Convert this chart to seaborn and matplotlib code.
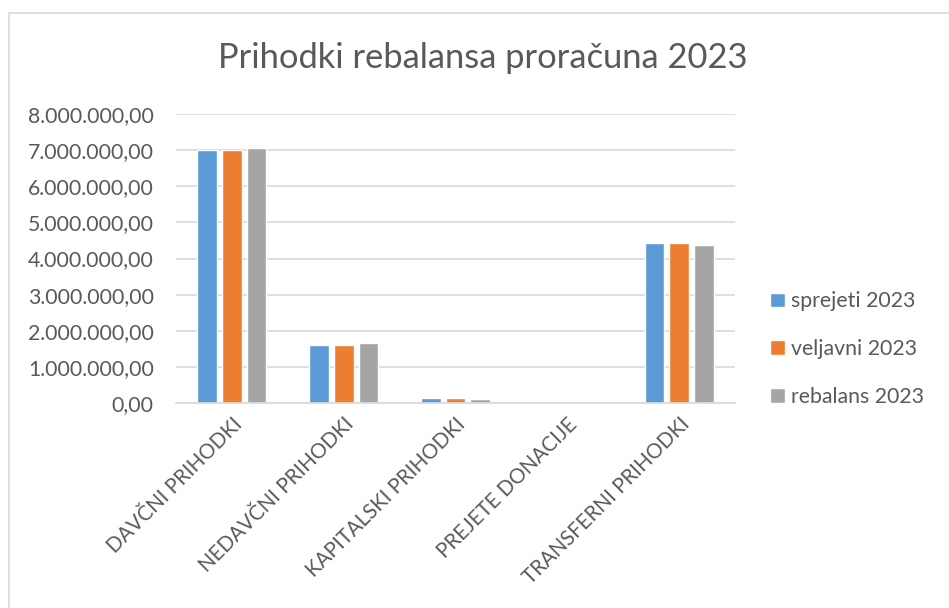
import numpy as np
import pandas as pd
import matplotlib
matplotlib.use("Agg")
import matplotlib.pyplot as plt
import matplotlib.patches as mpatches
from matplotlib.ticker import FuncFormatter
import seaborn as sns

# data
categories = ["DAVČNI PRIHODKI", "NEDAVČNI PRIHODKI", "KAPITALSKI PRIHODKI",
              "PREJETE DONACIJE", "TRANSFERNI PRIHODKI"]
series = ["sprejeti 2023", "veljavni 2023", "rebalans 2023"]
sprejeti = [7000000, 1600000, 125000, 0, 4420000]
veljavni = [7000000, 1600000, 125000, 0, 4420000]
rebalans = [7070000, 1660000, 120000, 0, 4370000]
colors = ["#5B9BD5", "#ED7D31", "#A5A5A5"]

df = pd.DataFrame({
    "kategorija": categories * 3,
    "znesek": sprejeti + veljavni + rebalans,
    "serija": [s for s in series for _ in categories],
})

sns.set_style("white")
plt.rcParams["font.family"] = ["Lato", "DejaVu Sans"]
txt = "#595959"
grid = "#D9D9D9"
fs = 15.3

fig = plt.figure(figsize=(9.49, 6.08), dpi=100)
ax = fig.add_axes([176/949, 205/608, (735-176)/949, (403-114)/608])

sns.barplot(data=df, x="kategorija", y="znesek", hue="serija",
            palette=colors, width=0.663, gap=0.2, ax=ax, saturation=1)

ax.set_ylim(0, 8000000)
ax.set_yticks(np.arange(0, 8000001, 1000000))
ax.yaxis.set_major_formatter(FuncFormatter(
    lambda v, p: f"{v:,.2f}".replace(",", "X").replace(".", ",").replace("X", ".")))
ax.grid(axis="y", color=grid, lw=1.2)
ax.set_axisbelow(True)
for s in ["top", "right", "left"]:
    ax.spines[s].set_visible(False)
ax.spines["bottom"].set_color(grid)
ax.spines["bottom"].set_linewidth(1.2)
ax.set_xlabel("")
ax.set_ylabel("")
ax.tick_params(axis="y", length=0, pad=16, labelsize=fs, labelcolor=txt)
ax.tick_params(axis="x", length=0, pad=8, labelsize=fs - 0.5, labelcolor=txt)
for lab in ax.get_xticklabels():
    lab.set_rotation(45)
    lab.set_ha("right")
    lab.set_rotation_mode("anchor")

ax.legend(loc="center left", bbox_to_anchor=(770/949, 1 - 349/608),
          bbox_transform=fig.transFigure, frameon=False, fontsize=fs,
          labelcolor=txt, handlelength=0.7, handleheight=0.7,
          handletextpad=0.3, labelspacing=1.3, borderpad=0, borderaxespad=0)

fig.text(483/949, 1 - 58/608, "Prihodki rebalansa proračuna 2023",
         ha="center", va="center", fontsize=24.8, color=txt, fontweight="normal")

fig.patches.append(mpatches.Rectangle((9/949, -0.1), 1.2, (608-13)/608 + 0.1,
                                      transform=fig.transFigure, fill=False,
                                      edgecolor=grid, lw=1.2))

fig.savefig("out.png", dpi=100)
